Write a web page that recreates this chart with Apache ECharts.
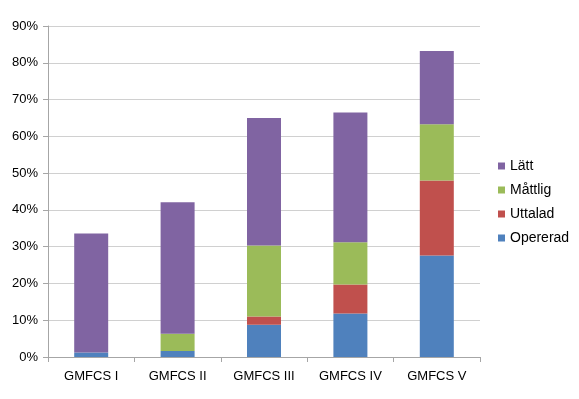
<!DOCTYPE html>
<html>
<head>
<meta charset="utf-8">
<script src="https://cdn.jsdelivr.net/npm/echarts@6/dist/echarts.min.js"></script>
<style>html,body{margin:0;padding:0;background:#fff}#c{width:579px;height:399px}</style>
</head>
<body>
<div id="c"></div>
<script>
const categories = ['GMFCS I', 'GMFCS II', 'GMFCS III', 'GMFCS IV', 'GMFCS V'];
const opererad = [1.2, 1.6, 8.8, 11.8, 27.6];
const uttalad = [0, 0, 2.2, 7.9, 20.4];
const mattlig = [0, 4.7, 19.3, 11.5, 15.3];
const latt = [32.4, 35.8, 34.7, 35.3, 19.9];
const seriesNames = ['Opererad', 'Uttalad', 'Måttlig', 'Lätt'];
const colors = ['#4F81BD', '#C0504D', '#9BBB59', '#8064A2'];
const font = 'Liberation Sans, Arial, sans-serif';

const chart = echarts.init(document.getElementById('c'), null, {renderer: 'canvas'});
const dataSets = [opererad, uttalad, mattlig, latt];
chart.setOption({
  animation: false,
  grid: {left: 48, right: 99, top: 26, bottom: 42, containLabel: false},
  legend: {
    orient: 'vertical', left: 493, top: 154, itemGap: 10,
    itemWidth: 7, itemHeight: 7, icon: 'rect',
    data: ['Lätt', 'Måttlig', 'Uttalad', 'Opererad'],
    textStyle: {fontFamily: font, fontSize: 14, color: '#000', padding: [0, 0, 0, 0]}
  },
  xAxis: {
    type: 'category', data: categories,
    axisLine: {lineStyle: {color: '#A6A6A6'}},
    axisTick: {show: true, length: 5, lineStyle: {color: '#A6A6A6'}},
    axisLabel: {fontFamily: font, fontSize: 13, color: '#000', margin: 13}
  },
  yAxis: {
    type: 'value', min: 0, max: 90, interval: 10,
    axisLine: {show: true, lineStyle: {color: '#A6A6A6'}},
    axisTick: {show: true, length: 5, lineStyle: {color: '#A6A6A6'}},
    splitLine: {lineStyle: {color: '#D0D0D0'}},
    axisLabel: {fontFamily: font, fontSize: 13, color: '#000', margin: 10, formatter: v => v + '%'}
  },
  series: seriesNames.map((n, i) => ({
    name: n, type: 'bar', stack: 'total', barWidth: 34,
    itemStyle: {color: colors[i]},
    data: dataSets[i]
  }))
});
</script>
</body>
</html>
